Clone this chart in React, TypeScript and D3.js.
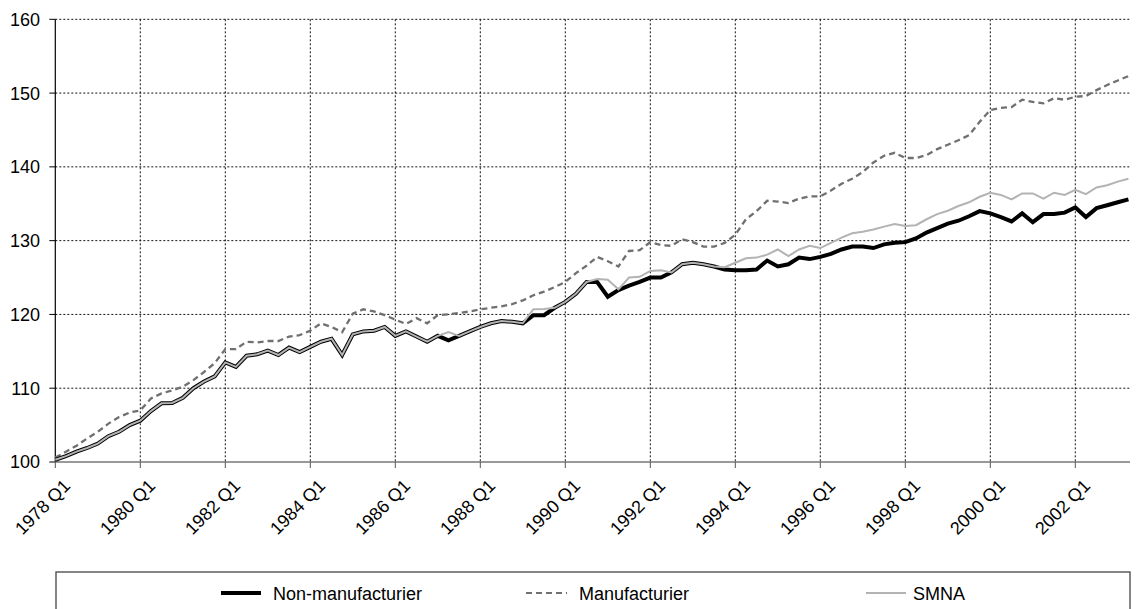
import React from "react";
import * as d3 from "d3";

const startYear = 1978;
const quarters: string[] = [];
for (let i = 0; i < 102; i++) {
  quarters.push(`${startYear + Math.floor(i / 4)} Q${(i % 4) + 1}`);
}

const tickLabels = ["1978 Q1", "1980 Q1", "1982 Q1", "1984 Q1", "1986 Q1", "1988 Q1", "1990 Q1", "1992 Q1", "1994 Q1", "1996 Q1", "1998 Q1", "2000 Q1", "2002 Q1"];
const yTicks = [100, 110, 120, 130, 140, 150, 160];

const nonManuf = [
  100.3, 100.8, 101.4, 101.9, 102.5, 103.5, 104.1, 105.0, 105.6, 106.9,
  107.95, 108.0, 108.7, 110.0, 110.9, 111.6, 113.5, 112.9, 114.4, 114.6,
  115.1, 114.5, 115.5, 114.9, 115.6, 116.3, 116.7, 114.5, 117.3, 117.7,
  117.8, 118.3, 117.1, 117.7, 117.0, 116.3, 117.1, 116.5, 117.1, 117.7,
  118.3, 118.8, 119.1, 119.0, 118.8, 119.9, 119.9, 120.9, 121.7, 122.8,
  124.4, 124.4, 122.4, 123.3, 123.9, 124.4, 125.0, 125.0, 125.7, 126.8,
  127.0, 126.8, 126.5, 126.1, 126.0, 126.0, 126.1, 127.3, 126.5, 126.8,
  127.7, 127.5, 127.8, 128.2, 128.8, 129.2, 129.2, 129.0, 129.5, 129.7,
  129.8, 130.3, 131.1, 131.7, 132.3, 132.7, 133.3, 134.0, 133.7, 133.2,
  132.6, 133.7, 132.5, 133.6, 133.6, 133.8, 134.5, 133.2, 134.4, 134.8,
  135.2, 135.6,
];

const manuf = [
  100.6, 101.4, 102.2, 103.2, 104.1, 105.2, 106.1, 106.7, 107.0, 108.6,
  109.3, 109.7, 110.2, 111.1, 112.2, 113.4, 115.3, 115.3, 116.3, 116.2,
  116.4, 116.4, 117.0, 117.2, 117.8, 118.8, 118.3, 117.6, 120.1, 120.7,
  120.4, 119.9, 119.3, 118.7, 119.5, 118.8, 119.9, 120.0, 120.2, 120.4,
  120.7, 120.9, 121.1, 121.4, 121.9, 122.6, 123.1, 123.7, 124.4, 125.6,
  126.6, 127.8, 127.2, 126.5, 128.6, 128.7, 129.8, 129.4, 129.3, 130.2,
  129.8, 129.2, 129.2, 129.7, 130.8, 132.9, 134.0, 135.4, 135.3, 135.1,
  135.7, 136.0, 136.0, 136.8, 137.7, 138.4, 139.3, 140.6, 141.5, 141.9,
  141.2, 141.2, 141.6, 142.4, 143.0, 143.6, 144.3, 146.1, 147.7, 148.0,
  148.1, 149.1, 148.8, 148.6, 149.3, 149.1, 149.5, 149.6, 150.4, 151.1,
  151.7, 152.3,
];

const smna = [
  100.3, 100.8, 101.4, 101.9, 102.5, 103.5, 104.1, 105.0, 105.6, 106.9,
  107.95, 108.0, 108.7, 110.0, 110.9, 111.6, 113.5, 112.9, 114.4, 114.6,
  115.1, 114.5, 115.5, 114.9, 115.6, 116.3, 116.7, 114.5, 117.3, 117.7,
  117.8, 118.3, 117.1, 117.7, 117.0, 116.3, 117.1, 117.6, 117.1, 117.7,
  118.3, 118.8, 119.1, 119.0, 118.8, 120.7, 120.75, 120.9, 121.7, 122.8,
  124.4, 124.8, 124.7, 123.4, 125.0, 125.1, 125.9, 126.0, 125.7, 126.8,
  127.0, 126.8, 126.5, 126.4, 127.0, 127.6, 127.7, 128.1, 128.8, 127.9,
  128.8, 129.3, 129.0, 129.7, 130.4, 131.0, 131.2, 131.5, 131.9, 132.25,
  132.0, 132.1, 132.9, 133.6, 134.05, 134.7, 135.2, 135.95, 136.5, 136.2,
  135.6, 136.4, 136.4, 135.7, 136.5, 136.2, 136.9, 136.3, 137.2, 137.5,
  138.0, 138.4,
];

const seriesNames = ["Non-manufacturier", "Manufacturier", "SMNA"];

export default function App() {
  const left = 55.3;
  const right = 1130;
  const top = 19.3;
  const bottom = 462;
  const x = d3.scalePoint<string>().domain(quarters).range([left, left + 101 * 10.625]);
  const y = d3.scaleLinear().domain([100, 160]).range([bottom, top]);
  const line = d3
    .line<number>()
    .x((_, i) => x(quarters[i]) as number)
    .y((d) => y(d));
  const font = "'Liberation Sans', Arial, Helvetica, sans-serif";

  return (
    <svg width={1137} height={609} style={{ position: "absolute", left: 0, top: 0, background: "#fff" }} fontFamily={font}>
      {yTicks.filter((t) => t > 100).map((t) => (
        <line key={"h" + t} x1={left} x2={right} y1={y(t)} y2={y(t)} stroke="#111" strokeWidth={1} strokeDasharray="2,2" />
      ))}
      {tickLabels.slice(1).map((t) => (
        <line key={"v" + t} x1={x(t)} x2={x(t)} y1={top} y2={bottom} stroke="#111" strokeWidth={1} strokeDasharray="2,2" />
      ))}
      <line x1={left} x2={left} y1={top} y2={bottom} stroke="#000" strokeWidth={1.2} />
      {yTicks.map((t) => (
        <g key={"yt" + t}>
          <line x1={left - 6} x2={left} y1={y(t)} y2={y(t)} stroke="#000" strokeWidth={1} />
          <text x={40} y={y(t)} dy="0.36em" textAnchor="end" fontSize={18} fill="#000">
            {t}
          </text>
        </g>
      ))}
      <line x1={left} x2={right} y1={bottom} y2={bottom} stroke="#777" strokeWidth={1.5} />
      {tickLabels.map((t) => (
        <g key={"xt" + t}>
          <line x1={x(t)} x2={x(t)} y1={bottom} y2={bottom + 6} stroke="#555" strokeWidth={1} />
          <text
            transform={`translate(${(x(t) as number) + 16},${bottom + 25}) rotate(-45)`}
            textAnchor="end"
            fontSize={18}
            fill="#000"
          >
            {t}
          </text>
        </g>
      ))}
      <path d={line(manuf) || ""} fill="none" stroke="#707070" strokeWidth={2.3} strokeDasharray="6,4" />
      <path d={line(nonManuf) || ""} fill="none" stroke="#000" strokeWidth={4} strokeLinejoin="miter" />
      <path d={line(smna) || ""} fill="none" stroke="#b3b3b3" strokeWidth={2} />
      <rect x={56} y={572} width={1074} height={60} fill="none" stroke="#444" strokeWidth={1.3} />
      <line x1={221} x2={261} y1={593} y2={593} stroke="#000" strokeWidth={4} />
      <text x={273} y={599.5} fontSize={18} fill="#000">{seriesNames[0]}</text>
      <line x1={526} x2={567} y1={593} y2={593} stroke="#707070" strokeWidth={2} strokeDasharray="6,4" />
      <text x={579} y={599.5} fontSize={18} fill="#000">{seriesNames[1]}</text>
      <line x1={866} x2={906} y1={593} y2={593} stroke="#b3b3b3" strokeWidth={2} />
      <text x={913} y={599.5} fontSize={18} fill="#000">{seriesNames[2]}</text>
    </svg>
  );
}
